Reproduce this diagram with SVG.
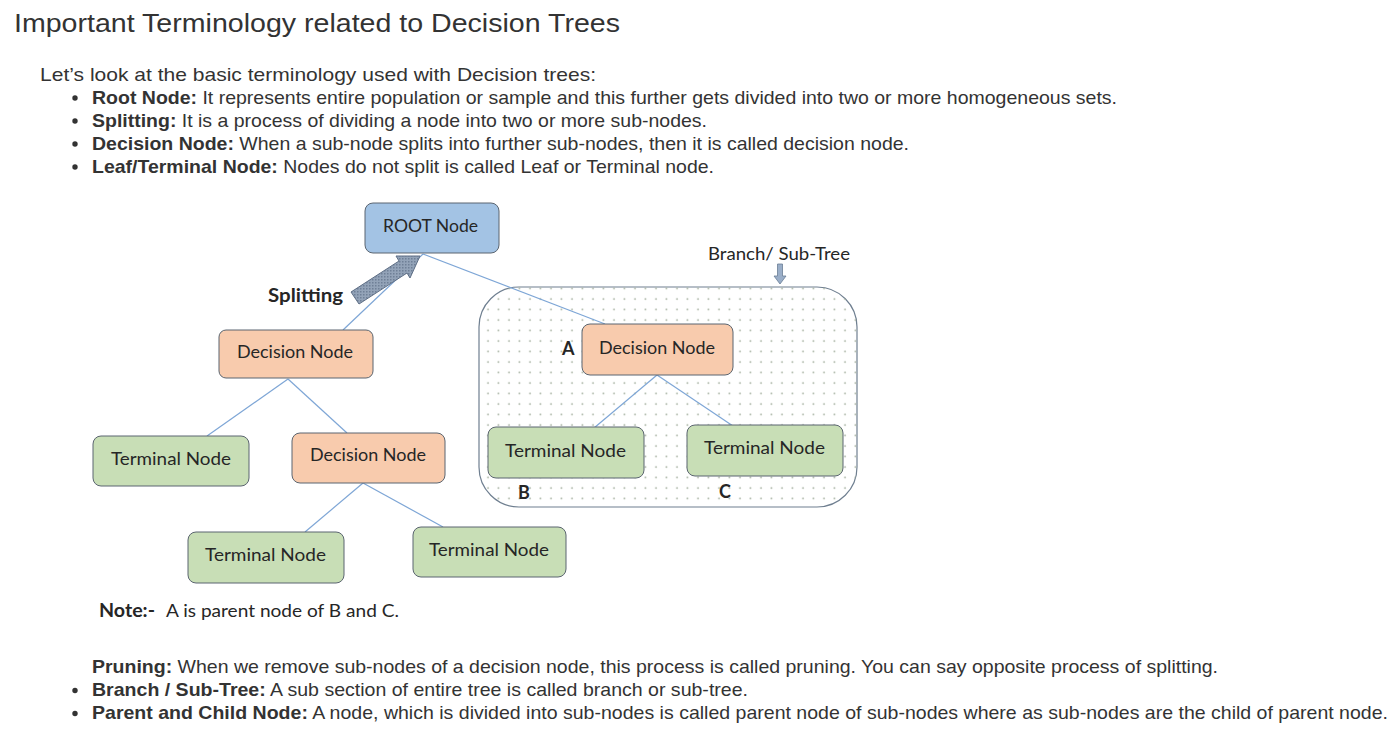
<svg xmlns="http://www.w3.org/2000/svg" width="1400" height="730" viewBox="0 0 1400 730">
<defs>
<style>
.body{font-family:"Liberation Sans",Arial,sans-serif;font-size:19px;fill:#333333}
.b{font-weight:bold}
.title{font-family:"Liberation Sans",Arial,sans-serif;font-size:26px;fill:#333333}
.nt{font-family:Lato,"Open Sans",sans-serif;font-size:18px;fill:#262626;text-anchor:middle}
.lbl{font-family:Lato,"Open Sans",sans-serif;font-size:18px;fill:#262626}
.root{fill:#a3c3e4;stroke:#5b6570;stroke-width:1}
.dec{fill:#f8cbad;stroke:#5b6570;stroke-width:1}
.term{fill:#c8deb6;stroke:#5b6570;stroke-width:1}
.conn{stroke:#7ea6d6;stroke-width:1.2;fill:none}
.bul{fill:#333333}
</style>
<pattern id="dots" width="10.5" height="10.5" patternUnits="userSpaceOnUse">
<circle cx="5" cy="5" r="0.9" fill="#a7b2a2"/>
</pattern>
<pattern id="hatch" width="3" height="3" patternUnits="userSpaceOnUse">
<rect width="3" height="3" fill="#93a3b8"/>
<rect width="1.5" height="1.5" fill="#6f8097"/>
</pattern>
</defs>
<rect width="1400" height="730" fill="#ffffff"/>

<g id="text-top">
<text class="title" x="14" y="32" textLength="606" lengthAdjust="spacingAndGlyphs">Important Terminology related to Decision Trees</text>
<text class="body" x="40" y="81" textLength="556" lengthAdjust="spacingAndGlyphs">Let’s look at the basic terminology used with Decision trees:</text>
<circle class="bul" cx="75" cy="98" r="2.7"/>
<text class="body" x="92" y="104" textLength="1025" lengthAdjust="spacingAndGlyphs"><tspan class="b">Root Node:</tspan> It represents entire population or sample and this further gets divided into two or more homogeneous sets.</text>
<circle class="bul" cx="75" cy="121" r="2.7"/>
<text class="body" x="92" y="127" textLength="615" lengthAdjust="spacingAndGlyphs"><tspan class="b">Splitting:</tspan> It is a process of dividing a node into two or more sub-nodes.</text>
<circle class="bul" cx="75" cy="144" r="2.7"/>
<text class="body" x="92" y="150" textLength="817" lengthAdjust="spacingAndGlyphs"><tspan class="b">Decision Node:</tspan> When a sub-node splits into further sub-nodes, then it is called decision node.</text>
<circle class="bul" cx="75" cy="167" r="2.7"/>
<text class="body" x="92" y="173" textLength="622" lengthAdjust="spacingAndGlyphs"><tspan class="b">Leaf/Terminal Node:</tspan> Nodes do not split is called Leaf or Terminal node.</text>
</g>

<g id="branch-subtree">
<rect x="479" y="287" width="378" height="220" rx="40" ry="40" fill="#ffffff" stroke="#6f7f90" stroke-width="1.2"/>
<rect x="479" y="287" width="378" height="220" rx="40" ry="40" fill="url(#dots)"/>
<text class="lbl" x="708" y="260" font-size="16" textLength="142" lengthAdjust="spacingAndGlyphs">Branch/ Sub-Tree</text>
<polygon points="777.5,264 782.5,264 782.5,276 786,276 780,284 774,276 777.5,276" fill="#9aaec8" stroke="#6a7d95" stroke-width="0.8"/>
</g>

<g id="connectors">
<line class="conn" x1="423" y1="254" x2="343" y2="330"/>
<line class="conn" x1="423" y1="254" x2="605" y2="324"/>
<line class="conn" x1="288" y1="379" x2="207" y2="436"/>
<line class="conn" x1="288" y1="379" x2="347" y2="433"/>
<line class="conn" x1="363" y1="483" x2="305" y2="532"/>
<line class="conn" x1="363" y1="483" x2="443" y2="527"/>
<line class="conn" x1="657" y1="375" x2="594" y2="428"/>
<line class="conn" x1="657" y1="375" x2="733" y2="426"/>
</g>

<g id="splitting-arrow">
<polygon points="351,292 399,261 396,256 420,256 410,278 407,273 359,304" fill="url(#hatch)" stroke="#5f6f86" stroke-width="1"/>
<text class="lbl" x="268" y="302" font-size="19" textLength="75" lengthAdjust="spacingAndGlyphs" font-weight="bold">Splitting</text>
</g>

<g id="root-node">
<rect class="root" x="365" y="203" width="134" height="50" rx="8"/>
<text class="nt" x="430.5" y="232" textLength="95" lengthAdjust="spacingAndGlyphs">ROOT Node</text>
</g>
<g id="decision-left">
<rect class="dec" x="219" y="330" width="154" height="48" rx="7"/>
<text class="nt" x="295" y="358" textLength="116" lengthAdjust="spacingAndGlyphs">Decision Node</text>
</g>
<g id="terminal-left">
<rect class="term" x="93" y="436" width="156" height="50" rx="8"/>
<text class="nt" x="171" y="465" textLength="120" lengthAdjust="spacingAndGlyphs">Terminal Node</text>
</g>
<g id="decision-mid">
<rect class="dec" x="292" y="433" width="153" height="50" rx="8"/>
<text class="nt" x="368" y="461" textLength="116" lengthAdjust="spacingAndGlyphs">Decision Node</text>
</g>
<g id="terminal-bottom-left">
<rect class="term" x="188" y="532" width="156" height="51" rx="8"/>
<text class="nt" x="265.5" y="561" textLength="121" lengthAdjust="spacingAndGlyphs">Terminal Node</text>
</g>
<g id="terminal-bottom-right">
<rect class="term" x="413" y="527" width="153" height="50" rx="8"/>
<text class="nt" x="489" y="556" textLength="120" lengthAdjust="spacingAndGlyphs">Terminal Node</text>
</g>
<g id="decision-a">
<rect class="dec" x="582" y="324" width="151" height="51" rx="8"/>
<text class="nt" x="657" y="354" textLength="116" lengthAdjust="spacingAndGlyphs">Decision Node</text>
<text class="lbl" x="562" y="355" font-weight="bold" font-size="17">A</text>
</g>
<g id="terminal-b">
<rect class="term" x="488" y="427" width="156" height="51" rx="8"/>
<text class="nt" x="565.5" y="457" textLength="121" lengthAdjust="spacingAndGlyphs">Terminal Node</text>
<text class="lbl" x="518" y="499" font-weight="bold" font-size="17">B</text>
</g>
<g id="terminal-c">
<rect class="term" x="687" y="425" width="156" height="51" rx="8"/>
<text class="nt" x="764.5" y="454" textLength="121" lengthAdjust="spacingAndGlyphs">Terminal Node</text>
<text class="lbl" x="719" y="498" font-weight="bold" font-size="17">C</text>
</g>

<g id="note">
<text class="lbl" x="99" y="617" font-size="17" font-weight="bold" textLength="56" lengthAdjust="spacingAndGlyphs">Note:-</text>
<text class="lbl" x="166" y="617" font-size="17" textLength="233" lengthAdjust="spacingAndGlyphs">A is parent node of B and C.</text>
</g>

<g id="text-bottom">
<text class="body" x="92" y="673" textLength="1126" lengthAdjust="spacingAndGlyphs"><tspan class="b">Pruning:</tspan> When we remove sub-nodes of a decision node, this process is called pruning. You can say opposite process of splitting.</text>
<circle class="bul" cx="75" cy="690.5" r="2.7"/>
<text class="body" x="92" y="696" textLength="656" lengthAdjust="spacingAndGlyphs"><tspan class="b">Branch / Sub-Tree:</tspan> A sub section of entire tree is called branch or sub-tree.</text>
<circle class="bul" cx="75" cy="713.5" r="2.7"/>
<text class="body" x="92" y="719" textLength="1296" lengthAdjust="spacingAndGlyphs"><tspan class="b">Parent and Child Node:</tspan> A node, which is divided into sub-nodes is called parent node of sub-nodes where as sub-nodes are the child of parent node.</text>
</g>
</svg>
